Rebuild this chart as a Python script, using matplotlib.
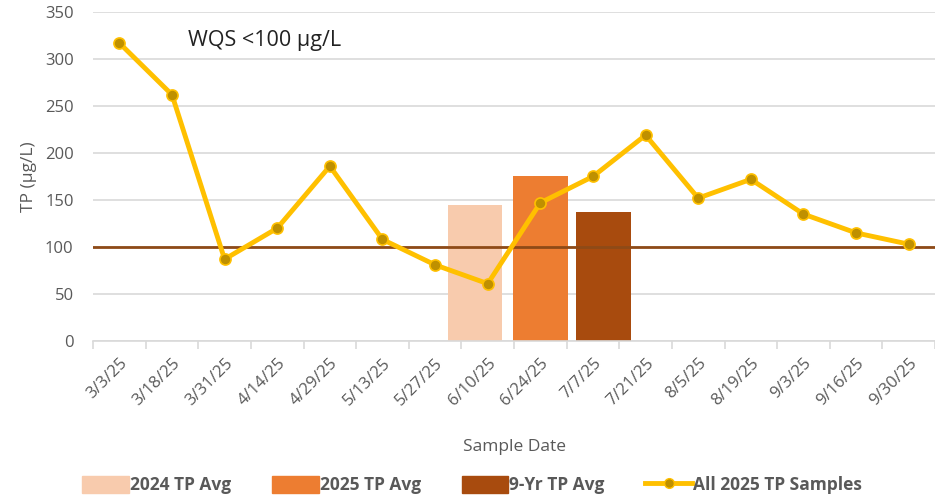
import matplotlib
matplotlib.use("Agg")
import matplotlib.pyplot as plt
from matplotlib.patches import Patch
from matplotlib.lines import Line2D
import numpy as np

dates = ["3/3/25", "3/18/25", "3/31/25", "4/14/25", "4/29/25", "5/13/25", "5/27/25",
         "6/10/25", "6/24/25", "7/7/25", "7/21/25", "8/5/25", "8/19/25", "9/3/25",
         "9/16/25", "9/30/25"]
tp_2025 = [317, 262, 87, 120, 186, 108, 81, 61, 147, 175, 219, 152, 172, 135, 115, 103]

avg_labels = ["2024 TP Avg", "2025 TP Avg", "9-Yr TP Avg"]
avg_values = [145, 175, 137]
avg_cats = ["6/10/25", "6/24/25", "7/7/25"]
wqs = 100

plt.rcParams['font.family'] = ['Open Sans', 'DejaVu Sans']

fig = plt.figure(figsize=(9.35, 4.99), dpi=100)
ax = fig.add_axes([0.0995, 0.3166, 0.9005, 0.6594])

x = np.arange(len(dates))
bar_colors = ["#F8CBAD", "#ED7D31", "#A84B0E"]
offsets = [-0.24, 0.0, 0.2]
for lab, val, cat, col, off in zip(avg_labels, avg_values, avg_cats, bar_colors, offsets):
    xi = dates.index(cat)
    ax.bar(xi + off, val, width=1.04, color=col, zorder=2)

ax.axhline(wqs, color="#8E4A17", lw=2, zorder=3)
ax.plot(x, tp_2025, color="#FFC000", lw=3.5, marker="o", ms=8,
        markerfacecolor="#BF9000", markeredgecolor="#FFC000", markeredgewidth=1.2, zorder=4)

ax.set_xlim(-0.5, len(dates) - 0.5)
ax.set_ylim(0, 350)
ax.set_yticks(np.arange(0, 351, 50))
ax.yaxis.grid(True, color="#D9D9D9", lw=1.2, zorder=0)
ax.set_axisbelow(True)
for s in ["left", "right", "top"]:
    ax.spines[s].set_visible(False)
ax.spines["bottom"].set_color("#D9D9D9")
ax.spines["bottom"].set_linewidth(1.2)
ax.tick_params(axis="y", length=0, labelsize=12, labelcolor="#595959", pad=14)

ax.set_xticks(x)
ax.set_xticklabels(dates, rotation=45, ha="right", rotation_mode="anchor",
                   fontsize=12, color="#595959")
ax.tick_params(axis="x", which="major", length=0, pad=10)
ax.set_xticks(np.arange(-0.5, len(dates)), minor=True)
ax.tick_params(axis="x", which="minor", length=6, color="#D9D9D9", width=1.2)

ax.set_ylabel("TP (µg/L)", fontsize=12.5, color="#595959", labelpad=6)
ax.set_xlabel("Sample Date", fontsize=12.5, color="#595959", labelpad=22)

ax.text(1.3, 320, "WQS <100 µg/L", fontsize=15.5, color="#222222", va="center", ha="left")

handles = [Patch(facecolor=c, edgecolor=c) for c in bar_colors]
handles.append(Line2D([0], [0], color="#FFC000", lw=3.5, marker="o", ms=7,
                      markerfacecolor="#BF9000", markeredgecolor="#FFC000"))
labels = avg_labels + ["All 2025 TP Samples"]
leg = fig.legend(handles, labels, loc="center", bbox_to_anchor=(0.505, 0.028), ncol=4,
                 frameon=False, handlelength=2.7, handleheight=1.1,
                 handletextpad=0.05, columnspacing=2.35,
                 prop={"family": "Open Sans", "weight": "bold", "size": 12.5})
for t in leg.get_texts():
    t.set_color("#595959")

fig.savefig("out.png", dpi=100)
